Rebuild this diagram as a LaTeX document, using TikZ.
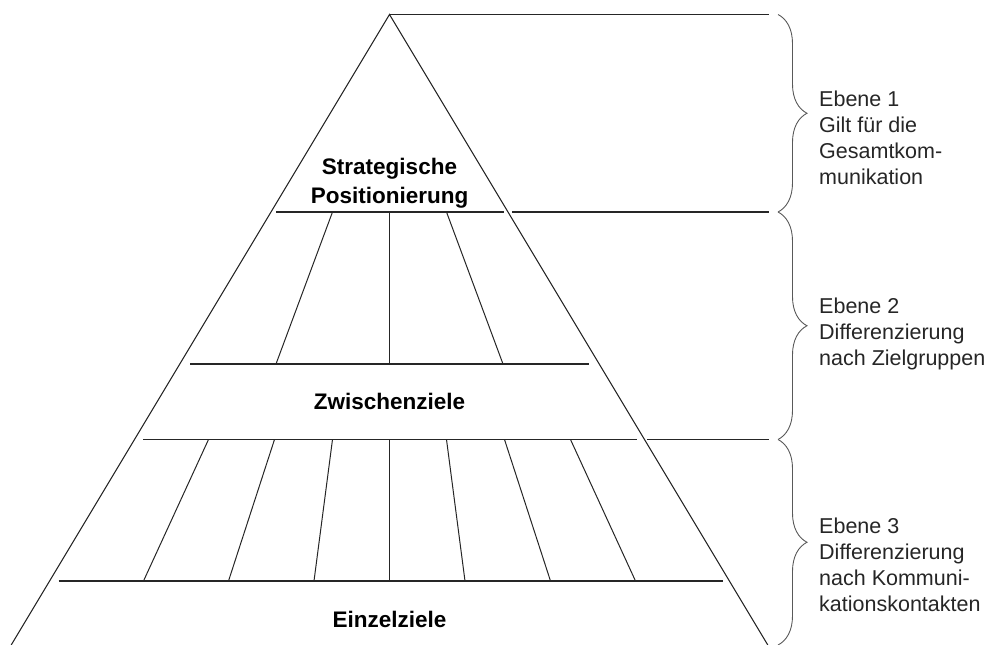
\documentclass[tikz,border=0pt]{standalone}
\usepackage{fontspec}
\setmainfont{Liberation Sans}
\usetikzlibrary{decorations.pathreplacing}
\begin{document}
\begin{tikzpicture}[x=1pt,y=-1pt,
  edge/.style={line width=1.1pt, black!85},
  rule/.style={line width=1.3pt, black!85},
  divider/.style={line width=1pt, black!85},
  levelbrace/.style={decorate, decoration={brace, amplitude=29pt}, line width=0.9pt, black!65},
  title/.style={font=\bfseries\fontsize{22.5}{29}\selectfont, align=center, inner sep=0pt},
  note/.style={font=\fontsize{21.5}{26}\selectfont, align=left, anchor=base west, inner sep=0pt, text=black!85}]
\useasboundingbox (0,0) rectangle (989,645);

% pyramid outline
\coordinate (apex) at (389.5,14.5);
\coordinate (baseL) at (11.2,645);
\coordinate (baseR) at (767.8,645);
\draw[edge] (baseL) -- (apex) -- (baseR);

% horizontal rules
\coordinate (top) at (769,14.5);
\draw[rule] (apex) -- (top);

\coordinate (r1a) at (276,212);   \coordinate (r1b) at (504,212);
\coordinate (r1c) at (512,212);   \coordinate (r1d) at (769,212);
\draw[rule] (r1a) -- (r1b);
\draw[rule] (r1c) -- (r1d);

\coordinate (r2a) at (190,364);   \coordinate (r2b) at (589,364);
\draw[rule] (r2a) -- (r2b);

\coordinate (r3a) at (143,439.5); \coordinate (r3b) at (636.8,439.5);
\coordinate (r3c) at (647,439.5); \coordinate (r3d) at (769,439.5);
\draw[rule] (r3a) -- (r3b);
\draw[rule] (r3c) -- (r3d);

\coordinate (r4a) at (58.5,581);  \coordinate (r4b) at (722.5,581);
\draw[rule] (r4a) -- (r4b);

% dividers of the second level
\foreach \u/\l [count=\i] in {-57/-113.5, 0/0, 57/113.5} {
  \coordinate (m\i t) at (389.5+\u,212);
  \coordinate (m\i b) at (389.5+\l,364);
  \draw[divider] (m\i t) -- (m\i b);
}

% dividers of the third level
\foreach \u/\l [count=\i] in {-181/-246, -115/-161, -57/-75.5, 0/0, 57/75.5, 115/161, 181/246} {
  \coordinate (d\i t) at (389.5+\u,439.5);
  \coordinate (d\i b) at (389.5+\l,581);
  \draw[divider] (d\i t) -- (d\i b);
}

% level labels inside the pyramid (base = baseline of the last line)
\node[title, anchor=base] (strat) at (389.5,203.3) {Strategische\\Positionierung};
\node[title, anchor=base] (zwisch) at (389.5,409.3) {Zwischenziele};
\node[title, anchor=base] (einzel) at (389.5,627.3) {Einzelziele};

% braces on the right
\coordinate (b1t) at (778,14.5);  \coordinate (b1b) at (778,212);
\coordinate (b2t) at (778,212);   \coordinate (b2b) at (778,439.5);
\coordinate (b3t) at (778,439.5); \coordinate (b3b) at (778,645);
\draw[levelbrace] (b1t) -- (b1b);
\draw[levelbrace] (b2t) -- (b2b);
\draw[levelbrace] (b3t) -- (b3b);

% level descriptions (base = baseline of the last line)
\node[note] (ebene1) at (819,184) {Ebene 1\\Gilt für die\\Gesamtkom-\\munikation};
\node[note] (ebene2) at (819,365.3) {Ebene 2\\Differenzierung\\nach Zielgruppen};
\node[note] (ebene3) at (819,611.3) {Ebene 3\\Differenzierung\\nach Kommuni-\\kationskontakten};
\end{tikzpicture}
\end{document}
